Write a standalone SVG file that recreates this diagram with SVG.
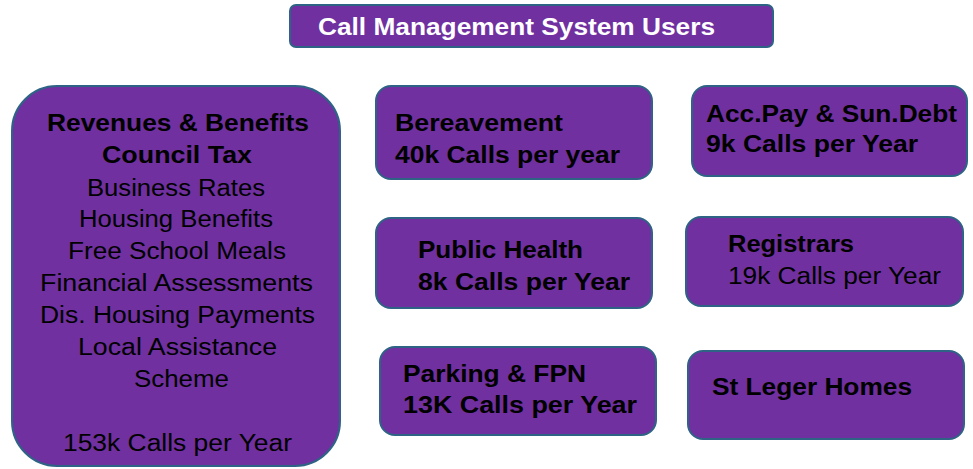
<svg xmlns="http://www.w3.org/2000/svg" width="973" height="469" viewBox="0 0 973 469">
  <style>
    .box { fill: #7030a0; stroke: #2e6385; stroke-width: 2; }
    text { font-family: "Liberation Sans", Arial, sans-serif; font-size: 23px; fill: #000; }
    .b { font-weight: bold; }
    .title { font-size: 23px; font-weight: bold; fill: #fff; }
  </style>
  <rect width="973" height="469" fill="#fff"/>

  <g id="title">
    <rect class="box" x="290" y="5" width="483" height="42" rx="6"/>
    <text class="title" x="318" y="35" textLength="397" lengthAdjust="spacingAndGlyphs">Call Management System Users</text>
  </g>

  <g id="revenues">
    <rect class="box" x="12" y="86" width="328" height="380" rx="45"/>
    <text class="b" x="47" y="131" textLength="262" lengthAdjust="spacingAndGlyphs">Revenues &amp; Benefits</text>
    <text class="b" x="102" y="163" textLength="150" lengthAdjust="spacingAndGlyphs">Council Tax</text>
    <text x="87" y="196" textLength="178" lengthAdjust="spacingAndGlyphs">Business Rates</text>
    <text x="79" y="227" textLength="194" lengthAdjust="spacingAndGlyphs">Housing Benefits</text>
    <text x="68" y="259" textLength="218" lengthAdjust="spacingAndGlyphs">Free School Meals</text>
    <text x="40" y="291" textLength="273" lengthAdjust="spacingAndGlyphs">Financial Assessments</text>
    <text x="40" y="323" textLength="275" lengthAdjust="spacingAndGlyphs">Dis. Housing Payments</text>
    <text x="78" y="355" textLength="199" lengthAdjust="spacingAndGlyphs">Local Assistance</text>
    <text x="134" y="387" textLength="95" lengthAdjust="spacingAndGlyphs">Scheme</text>
    <text x="63" y="451" textLength="229" lengthAdjust="spacingAndGlyphs">153k Calls per Year</text>
  </g>

  <g id="bereavement">
    <rect class="box" x="376" y="86" width="276" height="93" rx="15"/>
    <text class="b" x="395" y="131" textLength="168" lengthAdjust="spacingAndGlyphs">Bereavement</text>
    <text class="b" x="395" y="163" textLength="225" lengthAdjust="spacingAndGlyphs">40k Calls per year</text>
  </g>

  <g id="public-health">
    <rect class="box" x="376" y="218" width="276" height="90" rx="15"/>
    <text class="b" x="418" y="258" textLength="165" lengthAdjust="spacingAndGlyphs">Public Health</text>
    <text class="b" x="418" y="290" textLength="212" lengthAdjust="spacingAndGlyphs">8k Calls per Year</text>
  </g>

  <g id="parking">
    <rect class="box" x="380" y="347" width="276" height="88" rx="15"/>
    <text class="b" x="403" y="382" textLength="183" lengthAdjust="spacingAndGlyphs">Parking &amp; FPN</text>
    <text class="b" x="403" y="413" textLength="234" lengthAdjust="spacingAndGlyphs">13K Calls per Year</text>
  </g>

  <g id="acc-pay">
    <rect class="box" x="692" y="86" width="275" height="90" rx="15"/>
    <text class="b" x="706" y="122" textLength="251" lengthAdjust="spacingAndGlyphs">Acc.Pay &amp; Sun.Debt</text>
    <text class="b" x="706" y="152" textLength="212" lengthAdjust="spacingAndGlyphs">9k Calls per Year</text>
  </g>

  <g id="registrars">
    <rect class="box" x="686" y="217" width="277" height="89" rx="15"/>
    <text class="b" x="728" y="252" textLength="126" lengthAdjust="spacingAndGlyphs">Registrars</text>
    <text x="728" y="284" textLength="213" lengthAdjust="spacingAndGlyphs">19k Calls per Year</text>
  </g>

  <g id="st-leger">
    <rect class="box" x="688" y="351" width="276" height="88" rx="15"/>
    <text class="b" x="712" y="395" textLength="200" lengthAdjust="spacingAndGlyphs">St Leger Homes</text>
  </g>

  <g id="connectors"/>
</svg>
